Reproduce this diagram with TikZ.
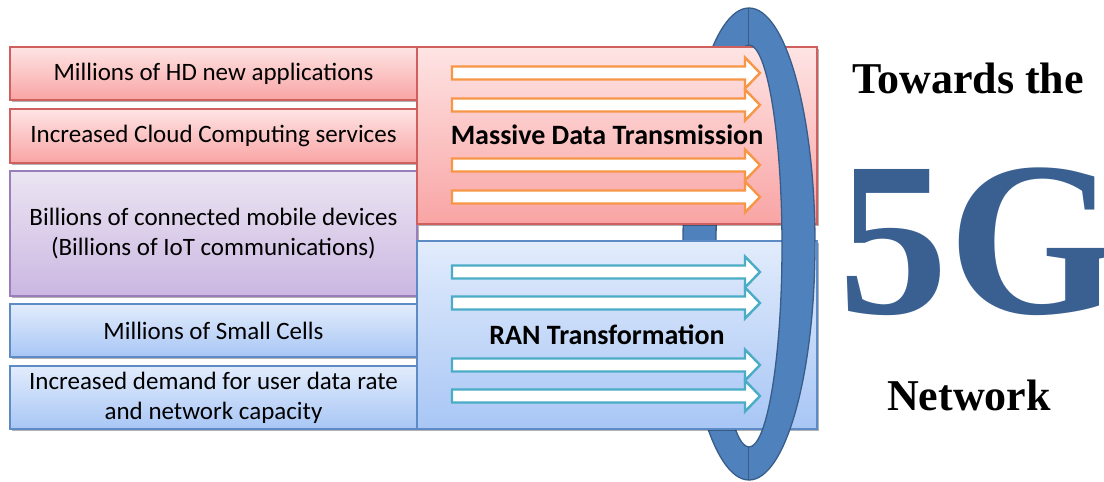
\documentclass[tikz,border=0pt]{standalone}
\usepackage{fontspec}
\setmainfont{Carlito}
\newfontfamily\tnr{Liberation Serif}
\usetikzlibrary{shadows}
\definecolor{redTop}{HTML}{FEE4E4}
\definecolor{redBot}{HTML}{F9A4A4}
\definecolor{redLine}{HTML}{D0605E}
\definecolor{purTop}{HTML}{EBE5F2}
\definecolor{purBot}{HTML}{CBB7E2}
\definecolor{purLine}{HTML}{9A7DBB}
\definecolor{bluTop}{HTML}{E2ECFC}
\definecolor{bluBot}{HTML}{A8C6F5}
\definecolor{bluLine}{HTML}{5C8BC6}
\definecolor{ringFill}{HTML}{4F81BD}
\definecolor{ringLine}{HTML}{385D8A}
\definecolor{fiveG}{HTML}{3A6091}
\definecolor{arrOrange}{HTML}{F79646}
\definecolor{arrCyan}{HTML}{4BACC6}
\tikzset{
  box/.style={rectangle, inner sep=0pt, line width=1.2pt, align=center,
    font=\fontsize{25}{30}\selectfont,
    drop shadow={shadow xshift=2pt, shadow yshift=-2pt, opacity=0.3, fill=black}},
  redbox/.style={box, draw=redLine, top color=redTop, bottom color=redBot},
  purbox/.style={box, draw=purLine, top color=purTop, bottom color=purBot},
  blubox/.style={box, draw=bluLine, top color=bluTop, bottom color=bluBot},
  bigtext/.style={font=\fontsize{28}{32}\selectfont\bfseries},
  ring/.style={fill=ringFill, draw=ringLine, line width=1.3pt, even odd rule},
  blockarr/.pic={\draw[pic actions, line width=2.4pt, fill=white, line join=miter]
     (0,-6.5) -- (293,-6.5) -- (293,-15.5) -- (308,0) -- (293,15.5) -- (293,6.5) -- (0,6.5) -- cycle;},
}
\begin{document}
\begin{tikzpicture}[x=1pt,y=-1pt]
\useasboundingbox (0,0) rectangle (1104,482);
% ring, back (left) half
\begin{scope}
  \clip (600,0) rectangle (749,482);
  \path[ring] (749,244) ellipse [x radius=66, y radius=236] (749,246) ellipse [x radius=33, y radius=201];
  \draw[ringLine, line width=1.3pt] (749,8) -- (749,45) (749,447) -- (749,480);
\end{scope}
% left boxes
\node[redbox, minimum width=407, minimum height=53] (b1) at (213.5,73.5) {Millions of HD new applications};
\node[redbox, minimum width=407, minimum height=54] (b2) at (213.5,136) {Increased Cloud Computing services};
\node[purbox, minimum width=407, minimum height=125] (b3) at (213.5,233.5) {Billions of connected mobile devices\\(Billions of IoT communications)};
\node[blubox, minimum width=407, minimum height=53] (b4) at (213.5,330.5) {Millions of Small Cells};
\node[blubox, minimum width=407, minimum height=63] (b5) at (213.5,397.5) {Increased demand for user data rate\\and network capacity};
% big boxes
\node[redbox, minimum width=400, minimum height=177] (R) at (617,135.5) {};
\node[blubox, minimum width=400, minimum height=188] (B) at (617,335) {};
% ring, front (right) half
\begin{scope}
  \clip (749,0) rectangle (900,482);
  \path[ring] (749,244) ellipse [x radius=66, y radius=236] (749,246) ellipse [x radius=33, y radius=201];
\end{scope}
% arrows
\foreach \yy in {73,105,165,197} \pic[draw=arrOrange] at (452,\yy) {blockarr};
\foreach \yy in {272,303,365,396} \pic[draw=arrCyan] at (452,\yy) {blockarr};
\node[bigtext] (mdt) at (607,135) {Massive Data Transmission};
\node[bigtext] (ran) at (607,335) {RAN Transformation};
% right titles
\node[font=\tnr\bfseries\fontsize{44}{48}\selectfont, anchor=base] (tow) at (968,93) {Towards the};
\node[font=\tnr\bfseries\fontsize{220}{220}\selectfont, text=fiveG, anchor=base west, inner sep=0pt] (fg) at (838,313) {5G};
\node[font=\tnr\bfseries\fontsize{44}{48}\selectfont, anchor=base] (net) at (969,410) {Network};
\end{tikzpicture}
\end{document}
